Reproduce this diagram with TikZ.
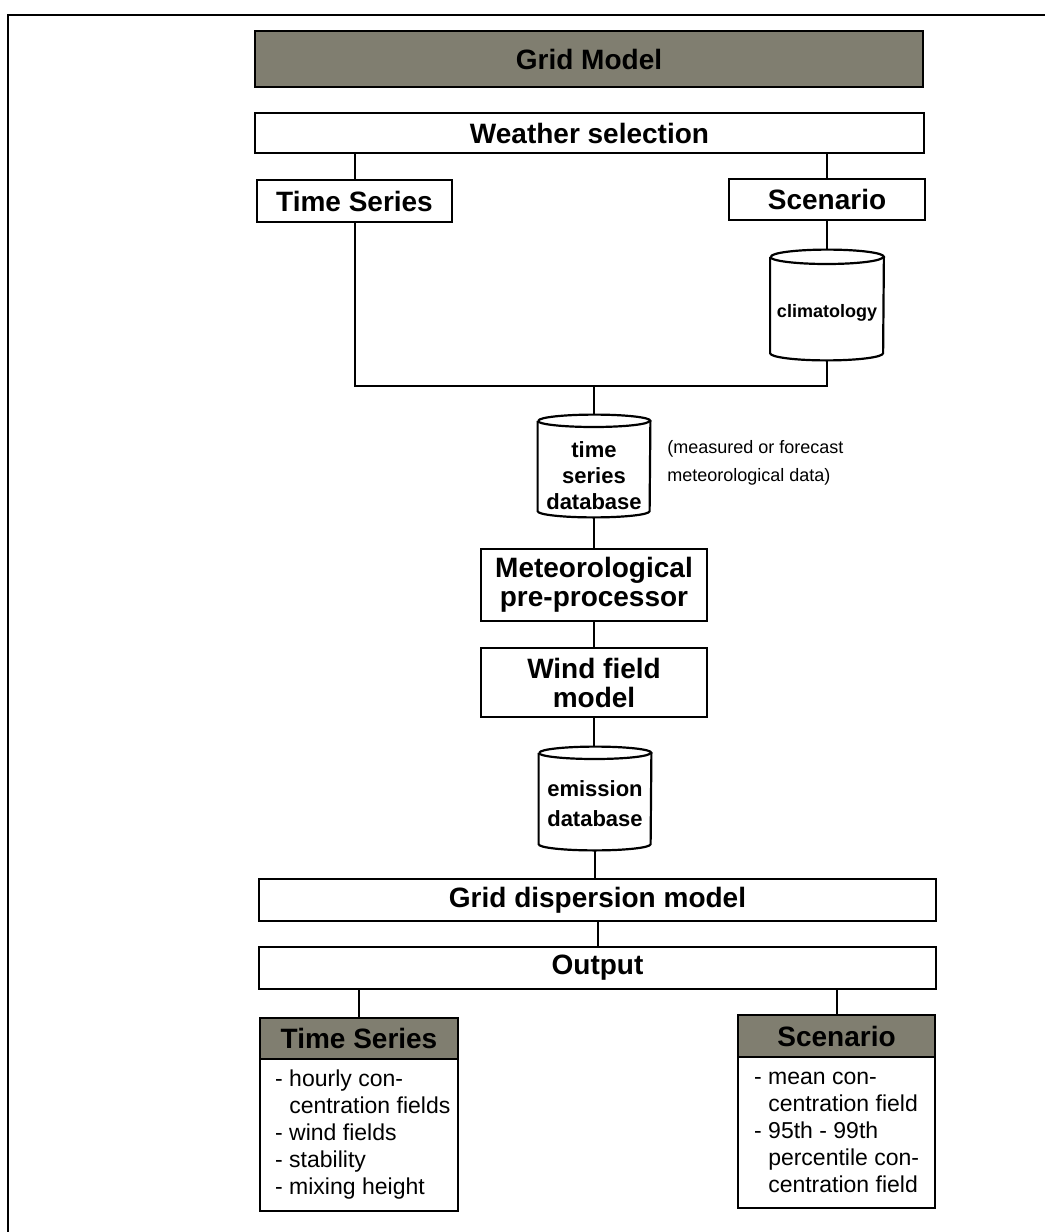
\documentclass[tikz,border=0pt]{standalone}
\usepackage{fontspec}
\setmainfont{Liberation Sans}
\definecolor{hdr}{RGB}{128,126,112}
\newcommand\dbcyl[3]{% name, half width, ellipse y radius
  \draw[line width=1.1pt] ([yshift=-#3]#1.north west) -- ([yshift=#3]#1.south west)
     arc[start angle=180,end angle=360,x radius=#2,y radius=#3]
     -- ([yshift=-#3]#1.north east)
     arc[start angle=0,end angle=180,x radius=#2,y radius=#3];
  \draw[line width=1.1pt] ([yshift=-#3]#1.north west)
     arc[start angle=180,end angle=360,x radius=#2,y radius=#3];
}
\begin{document}
\begin{tikzpicture}[x={(0.5pt,0)},y={(0,-0.5pt)},
  box/.style={draw, line width=1.2pt, inner sep=0pt, align=center,
    font=\fontsize{14}{14.5}\selectfont\bfseries},
  hdrbox/.style={box, fill=hdr},
  dbnode/.style={inner sep=0pt},
  dblabel/.style={align=center, inner sep=0pt},
  conn/.style={line width=1pt},
  bodytext/.style={anchor=west, align=left, inner sep=0pt,
    font=\fontsize{11.5}{13.5}\selectfont}]
\useasboundingbox (0,0) rectangle (1045,1232);
% frame
\draw[line width=1pt] (8,1232) -- (8,15) -- (1045,15);

\node[hdrbox, minimum width=334pt, minimum height=28pt] (grid) at (589,59) {Grid Model};
\node[box, minimum width=334.5pt, minimum height=20pt] (weather) at (589.5,133) {Weather selection};
\node[box, minimum width=97.5pt, minimum height=21pt] (ts1) at (354.5,201) {Time Series};
\node[box, minimum width=98pt, minimum height=20.5pt] (sc1) at (827,199.5) {Scenario};

\node[dbnode, minimum width=56.5pt, minimum height=55pt,
  label={[dblabel, yshift=-4pt, font=\fontsize{9}{10}\selectfont\bfseries]center:climatology}] (clim) at (827,305) {};
\dbcyl{clim}{28.25pt}{3.6pt}

\coordinate (join) at (594,386);

\node[dbnode, minimum width=56pt, minimum height=51pt,
  label={[dblabel, yshift=-5pt, font=\fontsize{11}{13}\selectfont\bfseries]center:time\\series\\database}] (tsdb) at (594,466) {};
\dbcyl{tsdb}{28pt}{3.1pt}

\node[anchor=west, align=left, inner sep=0pt, font=\fontsize{9}{14}\selectfont] (note) at (667,463)
  {(measured or forecast\\meteorological data)};

\node[box, minimum width=113pt, minimum height=36pt] (met) at (594,585) {Meteorological\\pre-processor};
\node[box, minimum width=113pt, minimum height=34.5pt] (wind) at (594,682.5) {Wind field\\model};

\node[dbnode, minimum width=56pt, minimum height=51.5pt,
  label={[dblabel, yshift=-2.5pt, font=\fontsize{11}{15}\selectfont\bfseries]center:emission\\database}] (emis) at (595,798.5) {};
\dbcyl{emis}{28pt}{3.1pt}

\node[box, minimum width=338.5pt, minimum height=21pt] (gdm) at (597.5,900) {Grid dispersion model};
\node[box, minimum width=338.5pt, minimum height=21pt] (out) at (597.5,968) {Output};

\node[hdrbox, minimum width=99pt, minimum height=20.5pt] (lhead) at (359,1038.5) {Time Series};
\node[draw, line width=1.2pt, minimum width=99pt, minimum height=76pt, inner sep=0pt] (lbody) at (359,1135) {};
\node[bodytext] (ltext) at ([xshift=8pt]lbody.west)
  {- hourly con-\\\phantom{- }centration fields\\- wind fields\\- stability\\- mixing height};

\node[hdrbox, minimum width=98.5pt, minimum height=21pt] (rhead) at (836.5,1036) {Scenario};
\node[draw, line width=1.2pt, minimum width=98.5pt, minimum height=75.5pt, inner sep=0pt] (rbody) at (836.5,1132.5) {};
\node[bodytext] (rtext) at ([xshift=8.5pt]rbody.west)
  {- mean con-\\\phantom{- }centration field\\- 95th - 99th\\\phantom{- }percentile con-\\\phantom{- }centration field};

% connectors
\draw[conn] (ts1.north |- weather.south) -- (ts1.north);
\draw[conn] (sc1.north |- weather.south) -- (sc1.north);
\draw[conn] (sc1.south) -- (clim.north);
\draw[conn] (ts1.south) -- (ts1.south |- join) -- (clim.south |- join) -- (clim.south);
\draw[conn] (join) -- (tsdb.north);
\draw[conn] (tsdb.south) -- (met.north);
\draw[conn] (met.south) -- (wind.north);
\draw[conn] (wind.south) -- (wind.south |- emis.north);
\draw[conn] (emis.south) -- (emis.south |- gdm.north);
\draw[conn] (out.north |- gdm.south) -- (out.north);
\draw[conn] (lhead.north |- out.south) -- (lhead.north);
\draw[conn] (rhead.north |- out.south) -- (rhead.north);
\end{tikzpicture}
\end{document}
